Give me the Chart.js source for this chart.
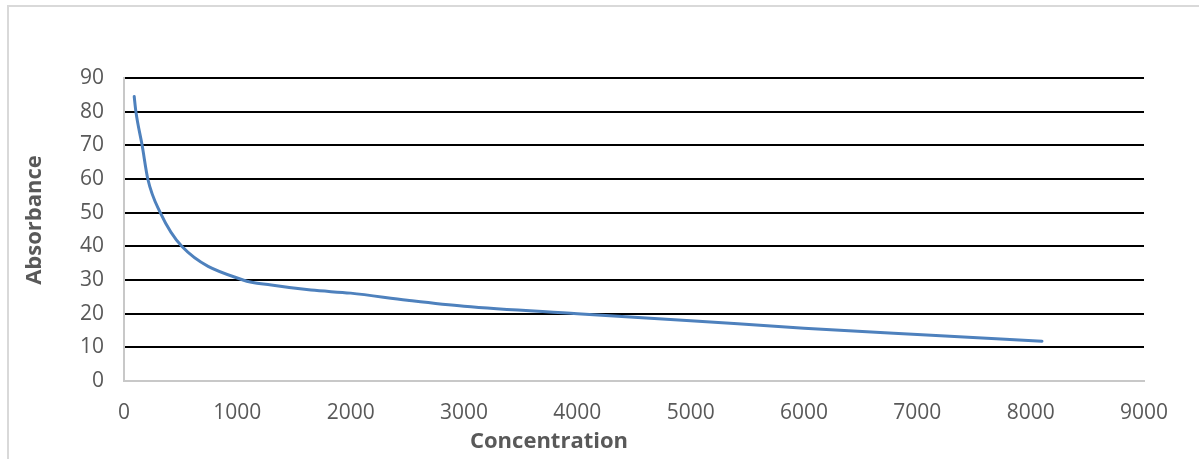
<!DOCTYPE html>
<html>
<head>
<meta charset="utf-8">
<script src="https://cdn.jsdelivr.net/npm/chart.js@4/dist/chart.umd.min.js"></script>
<style>
html,body{margin:0;padding:0;background:#fff;overflow:hidden;}
canvas{display:block;}
</style>
</head>
<body>
<canvas id="c" width="1199" height="459"></canvas>
<script>
// Data
const concentration = [90, 105, 160, 210, 320, 510, 1050, 1300, 1650, 2000, 2500, 3000, 4000, 5000, 6000, 7000, 8100];
const absorbance    = [84.5, 80, 70, 60, 50, 40, 30, 28.5, 27, 26.1, 24, 22.2, 20, 17.9, 15.7, 13.8, 11.8];
const xTitle = "Concentration";
const yTitle = "Absorbance";
const xMin = 0, xMax = 9000, xStep = 1000;
const yMin = 0, yMax = 90, yStep = 10;

const points = concentration.map((x, i) => ({x: x, y: absorbance[i]}));
const FONT = '"Open Sans", "Liberation Sans", sans-serif';
const TXT = '#595959';

const framePlugin = {
  id: 'frame',
  beforeDraw(chart) {
    const c = chart.ctx;
    c.save();
    c.fillStyle = '#fff';
    c.fillRect(0, 0, chart.width, chart.height);
    c.strokeStyle = '#d9d9d9';
    c.lineWidth = 2;
    c.beginPath();
    c.moveTo(8, chart.height + 5);
    c.lineTo(8, 6);
    c.lineTo(chart.width + 5, 6);
    c.stroke();
    c.restore();
  },
  afterDraw(chart) {
    const c = chart.ctx;
    c.save();
    c.fillStyle = TXT;
    c.font = 'bold 22px ' + FONT;
    c.textAlign = 'center';
    c.textBaseline = 'middle';
    c.fillText(xTitle, 549, 442);
    c.translate(35, 220);
    c.rotate(-Math.PI / 2);
    c.fillText(yTitle, 0, 0);
    c.restore();
  }
};

new Chart(document.getElementById('c'), {
  type: 'scatter',
  data: {
    datasets: [{
      data: points,
      showLine: true,
      borderColor: '#4E81BD',
      backgroundColor: '#4E81BD',
      borderWidth: 3,
      pointRadius: 0,
      cubicInterpolationMode: 'monotone',
      borderCapStyle: 'round'
    }]
  },
  options: {
    responsive: false,
    animation: false,
    layout: {padding: {top: 78, right: 55, left: 0, bottom: 0}},
    plugins: {legend: {display: false}, tooltip: {enabled: false}},
    scales: {
      x: {
        type: 'linear',
        min: xMin, max: xMax,
        afterFit(s) { s.height = 78; },
        ticks: {stepSize: xStep, color: TXT, font: {family: FONT, size: 21}, padding: 19, maxRotation: 0,
                callback: v => String(v)},
        grid: {display: false, drawTicks: false},
        border: {display: true, color: '#c8c8c8', width: 2}
      },
      y: {
        min: yMin, max: yMax,
        afterFit(s) { s.width = 124; },
        ticks: {stepSize: yStep, color: TXT, font: {family: FONT, size: 21}, padding: 20,
                callback: v => String(v)},
        grid: {
          drawTicks: false,
          color: ctx => (ctx.tick && ctx.tick.value === 0) ? 'rgba(0,0,0,0)' : '#000',
          lineWidth: 2
        },
        border: {display: true, color: '#c8c8c8', width: 2}
      }
    }
  },
  plugins: [framePlugin]
});
</script>
</body>
</html>
